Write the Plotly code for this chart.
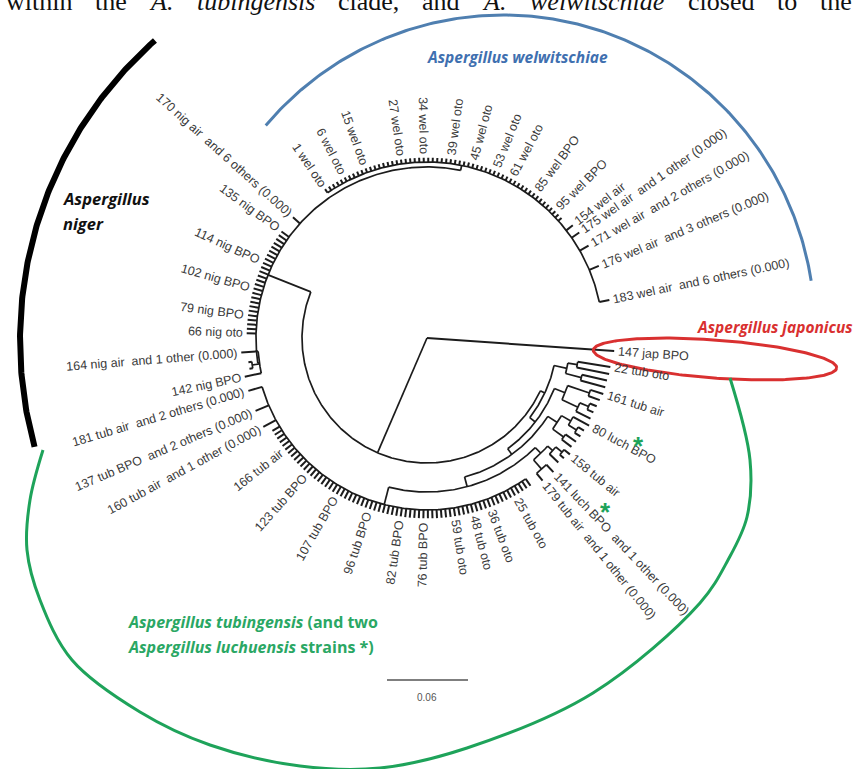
import math
import plotly.graph_objects as go

# ---------------- data ----------------
# leaf labels per clade segment ("" = unlabeled tip); strains = tips merged into one leaf
wel_dense_count = 58
wel_dense_label_idx = [0, 5, 10, 18, 23, 29, 34, 39, 43, 49, 55]
wel_dense_label_txt = ["1 wel oto", "6 wel oto", "15 wel oto", "27 wel oto", "34 wel oto",
                       "39 wel oto", "45 wel oto", "53 wel oto", "61 wel oto", "85 wel BPO", "95 wel BPO"]
wel_tail_txt = ["154 wel air", "175 wel air\u00a0 and 1 other (0.000)", "171 wel air\u00a0 and 2 others (0.000)",
                "176 wel air\u00a0 and 3 others (0.000)", "183 wel air\u00a0 and 6 others (0.000)"]
wel_tail_strains = [1, 2, 3, 4, 7]

nig_head_txt = ["170 nig air\u00a0 and 6 others (0.000)"]
nig_head_strains = [7]
nig_dense_count = 25
nig_dense_label_idx = [0, 8, 14, 20, 24]
nig_dense_label_txt = ["135 nig BPO", "114 nig BPO", "102 nig BPO", "79 nig BPO", "66 nig oto"]
nig_low_txt = ["164 nig air\u00a0 and 1 other (0.000)", "", "", "142 nig BPO"]
nig_low_strains = [2, 1, 1, 1]

tub_coll_txt = ["181 tub air\u00a0 and 2 others (0.000)", "137 tub BPO\u00a0 and 2 others (0.000)",
                "160 tub air\u00a0 and 1 other (0.000)"]
tub_coll_strains = [3, 3, 2]
tub_ring_count = 66
tub_ring_label_idx = [5, 12, 20, 28, 35, 40, 47, 51, 55, 61]
tub_ring_label_txt = ["166 tub air", "123 tub BPO", "107 tub BPO", "96 tub BPO", "82 tub BPO",
                      "76 tub BPO", "59 tub oto", "48 tub oto", "36 tub oto", "25 tub oto"]
tub_jag_count = 19
tub_jag_label_idx = [0, 1, 4, 9, 14, 18]
tub_jag_label_txt = ["179 tub air\u00a0 and 1 other (0.000)", "141 luch BPO\u00a0 and 1 other (0.000)",
                     "158 tub air", "80 luch BPO", "161 tub air", "22 tub oto"]
tub_jag_strains = [2, 2] + [1] * 17

jap_txt = ["147 jap BPO"]

scale_bar_value = 0.06

header_words = ["within", "the", "A.", "tubingensis", "clade,", "and", "A.", "welwitschiae", "closed", "to", "the"]
header_italic = [False, False, True, True, False, False, True, True, False, False, False]

# ---------------- layout constants ----------------
CX, CY = 427, 338
PXU = 81 / 0.06          # pixels per substitution unit
SPAN = {  # angular span (deg, counter-clockwise from east) of each leaf segment
    "wd": (124.4, 41.75), "wt": (37.7, 11.8), "nh": (138.0, 138.0), "nd": (143.8, 178.5),
    "nl": (184.5, 192.0), "tc": (196.5, 208.5), "tr": (211.0, 305.0), "tj": (309.0, 351.0),
    "jp": (356.0, 356.0),
}


def seg_angles(weights, a0, a1):
    cum, cen = 0, []
    for w in weights:
        cen.append(cum + w / 2)
        cum += w
    if len(cen) == 1:
        return [a0]
    return [a0 + (c - cen[0]) / (cen[-1] - cen[0]) * (a1 - a0) for c in cen]


def expand(count, idx, txt):
    lab = [""] * count
    for i, t in zip(idx, txt):
        lab[i] = t
    return lab


segments = {
    "wd": (expand(wel_dense_count, wel_dense_label_idx, wel_dense_label_txt), [1] * wel_dense_count),
    "wt": (wel_tail_txt, wel_tail_strains),
    "nh": (nig_head_txt, nig_head_strains),
    "nd": (expand(nig_dense_count, nig_dense_label_idx, nig_dense_label_txt), [1] * nig_dense_count),
    "nl": (nig_low_txt, nig_low_strains),
    "tc": (tub_coll_txt, tub_coll_strains),
    "tr": (expand(tub_ring_count, tub_ring_label_idx, tub_ring_label_txt), [1] * tub_ring_count),
    "tj": (expand(tub_jag_count, tub_jag_label_idx, tub_jag_label_txt), tub_jag_strains),
    "jp": (jap_txt, [1]),
}
leaf_ang, leaf_lab = {}, {}
for key, (labs, ws) in segments.items():
    angs = seg_angles(ws, *SPAN[key])
    for i, (lb, a) in enumerate(zip(labs, angs)):
        leaf_ang[f"{key}{i}"] = a
        leaf_lab[f"{key}{i}"] = lb


# ---------------- tree (depths in substitutions / site) ----------------
def N(d, *ch):
    return {"d": d, "c": list(ch)}


def L(k, d):
    return {"d": d, "k": k}


TIP = 0.1336
LONG = 0.1380
tree = N(0.0,
         L("jp0", 0.1390),
         N(0.0926,
           N(0.1267,
             N(0.1304,
               *[L(f"wd{i}", TIP) for i in range(wel_dense_count)],
               L("wt0", 0.1365), L("wt1", 0.1372), L("wt2", 0.1378), L("wt3", LONG), L("wt4", LONG)),
             L("nh0", TIP),
             *[L(f"nd{i}", TIP) for i in range(nig_dense_count)],
             N(0.1255, L("nl0", LONG), N(0.1310, L("nl1", 0.1335), L("nl2", 0.1335)), L("nl3", LONG))),
           N(0.0963,
             N(0.1015,
               N(0.1067,
                 N(0.1141,
                   N(0.1274,
                     L("tc0", LONG), L("tc1", LONG), L("tc2", LONG),
                     *[L(f"tr{i}", TIP) for i in range(tub_ring_count)]),
                   N(0.1200,
                     N(0.1290, L("tj0", 0.1360), L("tj1", 0.1365)),
                     N(0.1250, L("tj2", 0.1340), N(0.1310, L("tj3", 0.1350), L("tj4", 0.1365))))),
                 N(0.1150,
                   N(0.1250, L("tj5", 0.1340), L("tj6", 0.1345)),
                   N(0.1230, N(0.1300, L("tj7", 0.1350), L("tj8", 0.1350)), L("tj9", 0.1365)))),
               N(0.1100,
                 N(0.1230, L("tj10", 0.1350), N(0.1300, L("tj11", 0.1350), L("tj12", 0.1355))),
                 N(0.1270, L("tj13", 0.1360), L("tj14", 0.1370)))),
             N(0.1060,
               N(0.1180, L("tj15", 0.1370), L("tj16", 0.1370)),
               N(0.1130, L("tj17", 0.1375), L("tj18", 0.1375))))))


def assign(n):
    if "k" in n:
        n["a"] = leaf_ang[n["k"]]
    else:
        for c in n["c"]:
            assign(c)
        n["a"] = sum(c["a"] for c in n["c"]) / len(n["c"])


assign(tree)


def pol(r, a):
    t = math.radians(a)
    return CX + r * math.cos(t), CY - r * math.sin(t)


xs, ys = [], []      # internal arcs and branches
tx, ty = [], []      # terminal branches (leaf ticks)


def draw(n):
    if "k" in n:
        return
    r0 = n["d"] * PXU
    angs = [c["a"] for c in n["c"]]
    lo, hi = min(angs), max(angs)
    if r0 > 0:
        steps = max(2, int((hi - lo) / 0.5) + 1)
        for i in range(steps + 1):
            x, y = pol(r0, lo + (hi - lo) * i / steps)
            xs.append(x); ys.append(y)
        xs.append(None); ys.append(None)
    for c in n["c"]:
        r1 = c["d"] * PXU
        x0, y0 = pol(r0, c["a"])
        x1, y1 = pol(r1, c["a"])
        if "k" in c:
            tx.extend([x0, x1, None]); ty.extend([y0, y1, None])
        else:
            xs.extend([x0, x1, None]); ys.extend([y0, y1, None])
        draw(c)


draw(tree)


def collect(n, out):
    if "k" in n:
        out.append(n)
    else:
        for c in n["c"]:
            collect(c, out)


leaves = []
collect(tree, leaves)

# Arial-like character widths (em)
CW = {"0": .556, "1": .556, "2": .556, "3": .556, "4": .556, "5": .556, "6": .556, "7": .556, "8": .556,
      "9": .556, " ": .278, "\u00a0": .278, "a": .556, "b": .556, "c": .5, "d": .556, "e": .556, "f": .278,
      "g": .556, "h": .556, "i": .222, "j": .222, "l": .222, "n": .556, "o": .556, "p": .556, "r": .333,
      "s": .5, "t": .278, "u": .556, "w": .722, "B": .667, "P": .667, "O": .778, "(": .333, ")": .333, ".": .278}
FS = 12.5


def twidth(s):
    return sum(CW.get(ch, .55) for ch in s) * FS


annotations = []
for lf in leaves:
    txt = leaf_lab[lf["k"]]
    if not txt:
        continue
    a = lf["a"] % 360
    w = twidth(txt)
    rc = lf["d"] * PXU + 4 + w / 2
    x, y = pol(rc, a)
    ang = 180 - a if 90 < a < 270 else -a
    annotations.append(dict(x=x, y=y, text=txt, textangle=ang, xanchor="center", yanchor="middle",
                            font=dict(family="Liberation Sans, Arial", size=FS, color="#3a3a3a")))

fig = go.Figure()
fig.add_trace(go.Scatter(x=xs, y=ys, mode="lines", line=dict(color="#1c1c1c", width=1.7),
                         hoverinfo="skip", showlegend=False))
fig.add_trace(go.Scatter(x=tx, y=ty, mode="lines", line=dict(color="#1c1c1c", width=2.0),
                         hoverinfo="skip", showlegend=False))

# ---- clade decorations ----
bx, by = [], []
for i in range(201):
    t = math.radians(-139.5 + 130.5 * i / 200)
    bx.append(503 + 312 * math.cos(t)); by.append(330 + 315 * math.sin(t))
fig.add_trace(go.Scatter(x=bx, y=by, mode="lines", line=dict(color="#4f7fb0", width=3),
                         hoverinfo="skip", showlegend=False))
kx, ky = [], []
for i in range(201):
    t = math.radians(164.5 + (228.5 - 164.5) * i / 200)
    kx.append(420 + 400 * math.cos(t)); ky.append(340 + 400 * math.sin(t))
fig.add_trace(go.Scatter(x=kx, y=ky, mode="lines", line=dict(color="#000000", width=6),
                         hoverinfo="skip", showlegend=False))
rx_, ry_ = [], []
tilt = math.radians(4.2)
for i in range(241):
    t = 2 * math.pi * i / 240
    ex, ey = 122 * math.cos(t), 19 * math.sin(t)
    rx_.append(715 + ex * math.cos(tilt) - ey * math.sin(tilt))
    ry_.append(359 + ex * math.sin(tilt) + ey * math.cos(tilt))
fig.add_trace(go.Scatter(x=rx_, y=ry_, mode="lines", line=dict(color="#d93030", width=3),
                         hoverinfo="skip", showlegend=False))
gpx = [43, 30, 27, 40, 72, 140, 210, 300, 380, 467, 593, 700, 728, 747, 750, 730]
gpy = [450, 500, 550, 600, 660, 712, 745, 766, 768, 748, 693, 603, 560, 517, 460, 378]
fig.add_trace(go.Scatter(x=gpx, y=gpy, mode="lines",
                         line=dict(color="#1ea35a", width=3, shape="spline", smoothing=1.0),
                         hoverinfo="skip", showlegend=False))

fig.add_trace(go.Scatter(x=[387, 387 + scale_bar_value * PXU], y=[680, 680], mode="lines",
                         line=dict(color="#555555", width=1.6), hoverinfo="skip", showlegend=False))
annotations.append(dict(x=427, y=697, text=f"{scale_bar_value:.2f}",
                        font=dict(family="Liberation Sans, Arial", size=10, color="#555555")))

BF = "Open Sans, Noto Sans, Arial"
annotations += [
    dict(x=517, y=57, text="<b><i>Aspergillus welwitschiae</i></b>", font=dict(family=BF, size=15.5, color="#3f70b0")),
    dict(x=61, y=198, text="<b><i>Aspergillus</i></b>", xanchor="left", font=dict(family=BF, size=16.5, color="#111")),
    dict(x=61, y=223, text="<b><i>niger</i></b>", xanchor="left", font=dict(family=BF, size=16.5, color="#111")),
    dict(x=775, y=327, text="<b><i>Aspergillus japonicus</i></b>",
         font=dict(family=BF, size=15.5, color="#d93030")),
    dict(x=126, y=622, text="<b><i>Aspergillus tubingensis</i> (and two</b>", xanchor="left",
         font=dict(family=BF, size=16, color="#2aa764")),
    dict(x=126, y=647, text="<b><i>Aspergillus luchuensis</i> strains *)</b>", xanchor="left",
         font=dict(family=BF, size=16, color="#2aa764")),
    dict(x=638, y=446, text="<b>*</b>", font=dict(family="Liberation Sans", size=26, color="#1ea35a")),
    dict(x=605, y=512, text="<b>*</b>", font=dict(family="Liberation Sans", size=26, color="#1ea35a")),
]

# justified, partly cropped header line (serif)
TW = {"w": .722, "i": .278, "t": .278, "h": .5, "n": .5, "e": .444, "A": .722, ".": .25, "u": .5, "b": .5,
      "g": .5, "s": .389, "c": .444, "l": .278, "a": .444, "d": .5, ",": .25, "o": .5}
HFS = 26
wws = [sum(TW.get(ch, .5) for ch in w) * HFS for w in header_words]
x_left, x_right = 4, 850
gap = (x_right - x_left - sum(wws)) / (len(header_words) - 1)
xpos = x_left
for w, it, ww in zip(header_words, header_italic, wws):
    annotations.append(dict(x=xpos, y=1, text=f"<i>{w}</i>" if it else w, xanchor="left", yanchor="middle",
                            font=dict(family="Liberation Serif, Times New Roman", size=HFS, color="#111")))
    xpos += ww + gap

for an in annotations:
    an.setdefault("xref", "x"); an.setdefault("yref", "y"); an.setdefault("showarrow", False)

fig.update_layout(width=860, height=769, margin=dict(l=0, r=0, t=0, b=0),
                  paper_bgcolor="white", plot_bgcolor="white", annotations=annotations,
                  xaxis=dict(range=[0, 860], visible=False, fixedrange=True),
                  yaxis=dict(range=[769, 0], visible=False, fixedrange=True))
fig.write_html("out.html", config={"displayModeBar": False},
               post_script="document.body.style.margin='0';document.body.style.overflow='hidden';")
